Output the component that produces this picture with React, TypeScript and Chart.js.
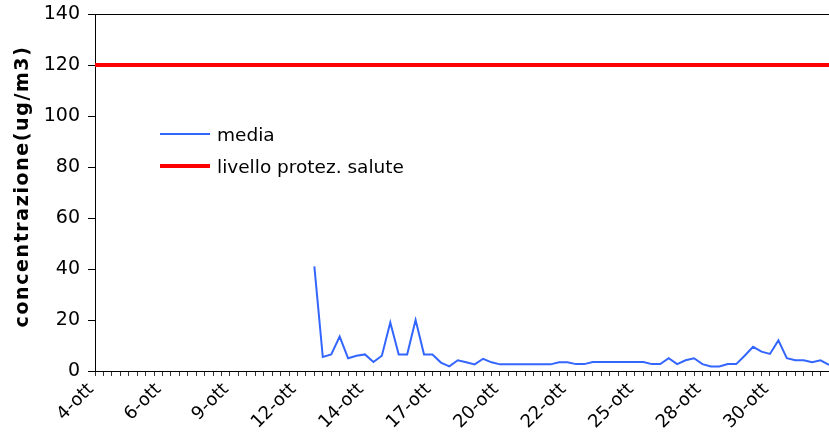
import React, { useEffect, useRef } from "react";
import { Chart, registerables } from "chart.js";

Chart.register(...registerables);

// Tick labels shown every 8 categories (3 readings per day)
const tickLabels = ["4-ott", "6-ott", "9-ott", "12-ott", "14-ott", "17-ott", "20-ott", "22-ott", "25-ott", "28-ott", "30-ott"];
const pointsPerLabel = 8;
const categoryCount = 88;

// media (ug/m3); null = no data
const mediaValues: (number | null)[] = [
  null, null, null, null, null, null, null, null, null, null,
  null, null, null, null, null, null, null, null, null, null,
  null, null, null, null, null, null,
  41, 5.5, 6.5, 13.5, 5, 6, 6.5, 3.5, 6, 19,
  6.5, 6.5, 20, 6.5, 6.5, 3.3, 1.8, 4.2, 3.4, 2.6,
  4.8, 3.4, 2.6, 2.6, 2.6, 2.6, 2.6, 2.6, 2.6, 3.4,
  3.4, 2.7, 2.7, 3.5, 3.5, 3.5, 3.5, 3.5, 3.5, 3.5,
  2.7, 2.7, 5, 2.7, 4.2, 5, 2.7, 1.8, 1.8, 2.7,
  2.7, 6, 9.5, 7.6, 6.7, 12, 5, 4.2, 4.2, 3.4,
  4.2, 2.4,
];

const protectionLevel = 120;
const yTitle = "concentrazione(ug/m3)";

const categories: string[] = [];
for (let i = 0; i < categoryCount; i++) {
  const k = Math.floor(i / pointsPerLabel);
  categories.push(i % pointsPerLabel === 0 && tickLabels[k] ? tickLabels[k] : "");
}
const limitValues = categories.map(() => protectionLevel);

const FONT = "'DejaVu Sans', sans-serif";

const frameAndLegend = {
  id: "frameAndLegend",
  afterDraw(chart: any) {
    const { ctx, chartArea } = chart;
    ctx.save();
    // top border
    ctx.strokeStyle = "#000";
    ctx.lineWidth = 1;
    ctx.beginPath();
    ctx.moveTo(chartArea.left, chartArea.top + 0.5);
    ctx.lineTo(chartArea.right, chartArea.top + 0.5);
    ctx.stroke();
    // legend inside plot
    const x0 = chartArea.left + 65;
    const rows = [
      { y: chartArea.top + 120, ds: chart.data.datasets[0] },
      { y: chartArea.top + 152, ds: chart.data.datasets[1] },
    ];
    ctx.font = "18.5px " + FONT;
    ctx.textBaseline = "middle";
    ctx.fillStyle = "#000";
    for (const r of rows) {
      ctx.strokeStyle = r.ds.borderColor;
      ctx.lineWidth = r.ds.borderWidth;
      ctx.beginPath();
      ctx.moveTo(x0, r.y);
      ctx.lineTo(x0 + 50, r.y);
      ctx.stroke();
      ctx.fillText(r.ds.label, x0 + 57, r.y + 2);
    }
    // y-axis title
    ctx.translate(23, (chartArea.top + chartArea.bottom) / 2 - 6);
    ctx.rotate(-Math.PI / 2);
    ctx.font = "bold 19px " + FONT;
    try { (ctx as any).letterSpacing = "1.6px"; } catch (e) {}
    ctx.textAlign = "center";
    ctx.textBaseline = "middle";
    ctx.fillText(yTitle, 0, 0);
    ctx.restore();
  },
};

export default function App() {
  const ref = useRef<HTMLCanvasElement | null>(null);
  useEffect(() => {
    if (!ref.current) return;
    const chart = new Chart(ref.current, {
      type: "line",
      data: {
        labels: categories,
        datasets: [
          {
            label: "media",
            data: mediaValues,
            borderColor: "#3366FF",
            borderWidth: 2,
            pointRadius: 0,
            tension: 0,
            spanGaps: false,
          },
          {
            label: "livello protez. salute",
            data: limitValues,
            borderColor: "#FF0000",
            borderWidth: 4,
            pointRadius: 0,
            tension: 0,
          },
        ],
      },
      options: {
        animation: false,
        responsive: true,
        maintainAspectRatio: false,
        layout: { padding: { top: 14, right: 0, left: 0, bottom: 0 } },
        plugins: { legend: { display: false }, tooltip: { enabled: false } },
        scales: {
          x: {
            type: "category",
            offset: false,
            afterFit: (s: any) => { s.height = 77; s.paddingLeft = 0; s.paddingRight = 0; },
            grid: { display: true, drawOnChartArea: false, drawTicks: true, tickLength: 5, color: "#333", offset: false },
            border: { display: true, color: "#000", width: 1 },
            ticks: {
              autoSkip: false,
              maxRotation: 45,
              minRotation: 45,
              padding: 3,
              labelOffset: -4,
              color: "#000",
              font: { family: FONT, size: 18 },
            },
          },
          y: {
            min: 0,
            max: 140,
            afterFit: (s: any) => { s.width = 95; s.paddingTop = 0; s.paddingBottom = 0; },
            grid: { display: true, drawOnChartArea: false, drawTicks: true, tickLength: 7, color: "#000" },
            border: { display: true, color: "#000", width: 1 },
            ticks: { stepSize: 20, padding: 8, color: "#000", font: { family: FONT, size: 19 } },
            title: { display: false },
          },
        },
      },
      plugins: [frameAndLegend],
    });
    return () => chart.destroy();
  }, []);
  return (
    <div style={{ position: "absolute", left: 0, top: 0, width: 829, height: 448, background: "#fff" }}>
      <canvas ref={ref} />
    </div>
  );
}
